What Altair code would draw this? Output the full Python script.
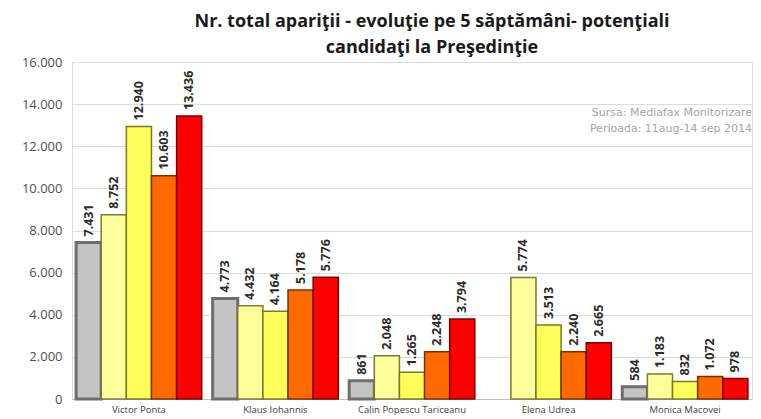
import altair as alt
import pandas as pd

candidates = ["Victor Ponta", "Klaus Iohannis", "Calin Popescu Tariceanu", "Elena Udrea", "Monica Macovei"]
weeks = ["S1", "S2", "S3", "S4", "S5"]
week1 = [7431, 4773, 861, None, 584]
week2 = [8752, 4432, 2048, 5774, 1183]
week3 = [12940, 4164, 1265, 3513, 832]
week4 = [10603, 5178, 2248, 2240, 1072]
week5 = [13436, 5776, 3794, 2665, 978]
colors = ["#c4c4c4", "#ffff9c", "#ffff5c", "#ff6a00", "#ff0000"]
strokes = ["#6e6e6e", "#7a7a30", "#7a7a20", "#7a3000", "#7a0000"]
source_lines = ["Sursa: Mediafax Monitorizare", "Perioada: 11aug-14 sep 2014"]

rows = []
for wk, vals in zip(weeks, [week1, week2, week3, week4, week5]):
    for c, v in zip(candidates, vals):
        if v is None:
            continue
        rows.append({"candidat": c, "saptamana": wk, "valoare": v,
                     "eticheta": f"{v:,}".replace(",", ".")})
df = pd.DataFrame(rows)

x = alt.X("candidat:N", sort=candidates, title=None,
          scale=alt.Scale(paddingInner=0.08, paddingOuter=0.03),
          axis=alt.Axis(labelFontSize=9.5, labelColor="#404040", labelAngle=0,
                        ticks=False, labelPadding=5, domainColor="#bfbfbf",
                        labelFont="Open Sans"))
xo = alt.XOffset("saptamana:N", sort=weeks, scale=alt.Scale(paddingInner=0, domain=weeks))
y = alt.Y("valoare:Q", title=None,
          scale=alt.Scale(domain=[0, 16000]),
          axis=alt.Axis(values=list(range(0, 16001, 2000)), labelFontSize=13,
                        labelColor="#505050", labelFont="Open Sans",
                        labelExpr="replace(format(datum.value, ','), ',', '.')",
                        ticks=False, domain=False, gridColor="#dcdcdc",
                        labelPadding=10))

base = alt.Chart(df).encode(x=x, xOffset=xo)

bars = base.mark_bar(strokeWidth=1.5).encode(
    y=y,
    color=alt.Color("saptamana:N", scale=alt.Scale(domain=weeks, range=colors), legend=None),
    stroke=alt.Stroke("saptamana:N", scale=alt.Scale(domain=weeks, range=strokes), legend=None),
    strokeWidth=alt.condition("datum.saptamana == 'S1'", alt.value(3), alt.value(1.5)),
)

labels = base.mark_text(angle=270, align="left", baseline="middle", dx=6,
                        fontSize=12.5, fontWeight="bold", color="#2b2b2b",
                        font="Open Sans").encode(
    y="valoare:Q", text="eticheta:N")

def src_text(i, ypos):
    return alt.Chart(pd.DataFrame({"t": [source_lines[i]]})).mark_text(
        align="right", baseline="middle", fontSize=11, color="#a6a6a6",
        font="DejaVu Sans").encode(x=alt.value(680), y=alt.value(ypos), text="t:N")

chart = alt.layer(bars, labels, src_text(0, 51), src_text(1, 67)).properties(
    width=680, height=337,
    title=alt.TitleParams(
        ["Nr. total apariţii - evoluţie pe 5 săptămâni- potenţiali",
         "candidaţi la Preşedinţie"],
        fontSize=18, fontWeight="bold", font="Open Sans", color="#1a1a1a",
        anchor="middle", dx=20, offset=-1, lineHeight=26),
    autosize=alt.AutoSizeParams(type="none"),
    padding={"left": 64, "top": 54, "right": 1, "bottom": 20},
).configure_view(stroke=None).configure(background="white")

chart.save("out.html", embed_options={"renderer": "svg", "actions": False})
